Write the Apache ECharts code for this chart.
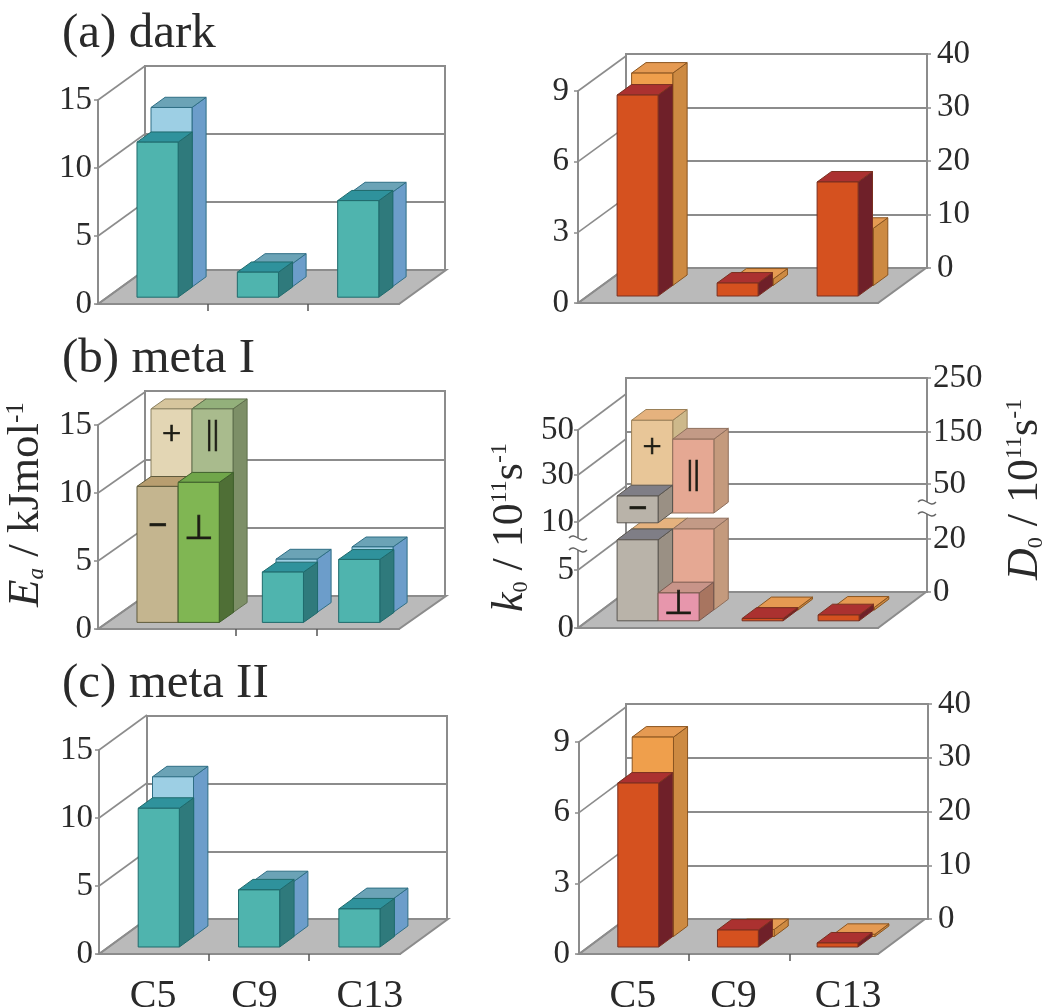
<!DOCTYPE html>
<html><head><meta charset="utf-8">
<style>html,body{margin:0;padding:0;background:#fff}#c{width:1050px;height:1007px}</style>
<script src="https://cdn.jsdelivr.net/npm/echarts@6/dist/echarts.min.js"></script>
</head><body><div id="c"></div>
<script>
// ---------- categories and tick labels ----------
const categories = ['C5', 'C9', 'C13'];
const eaTicks = [0, 5, 10, 15];
const k0Ticks = [0, 3, 6, 9];
const d0Ticks = [0, 10, 20, 30, 40];
const k0BrokenTicks = [0, 5, 10, 30, 50];
const d0BrokenTicks = [0, 20, 50, 150, 250];

// ---------- values ----------
const darkEaFront = [11.4, 1.84, 7.1];
const darkEaBack = [13.2, 1.7, 6.95];
const darkK0 = [8.53, 0.55, 4.84];
const darkD0 = [39.7, 1.2, 10.7];

const metaIEaMinus = [10.0];
const metaIEaPerp = [10.3];
const metaIEaPlus = [14.9];
const metaIEaPar = [14.9];
const metaIEaFront = [3.7, 4.63];
const metaIEaBack = [3.9, 4.8];

const metaIK0Minus = [18];
const metaIK0Perp = [2.4];
const metaID0Plus = [205];
const metaID0Par = [170];
const metaIK0 = [0.2, 0.5];
const metaID0 = [0.8, 1.0];

const metaIIEaFront = [10.2, 4.2, 2.8];
const metaIIEaBack = [11.8, 4.05, 2.8];
const metaIIK0 = [6.96, 0.72, 0.17];
const metaIID0 = [37.1, 1.3, 0.4];

// ---------- layout and style ----------
const SERIF = '"Liberation Serif","Times New Roman",serif';
const FRAME = '#8c8c8c', FLOOR = '#bababa', INK = '#2a2a2a';
const teal = {face:'#4fb4ae', top:'#2f929c', side:'#2f7a7c', line:'#1f6a6c'};
const sky = {face:'#9dcfe4', top:'#6ba3b6', side:'#6c9dca', line:'#2f6f85'};
const red = {face:'#d5511f', top:'#ab3130', side:'#6f2029', line:'#7a3020'};
const orange = {face:'#ef9f4c', top:'#e59a52', side:'#cd8a42', line:'#8a5520'};
const tanM = {face:'#c4b58f', top:'#b89e70', side:'#9c8d6a', line:'#5f5a3c'};
const greenP = {face:'#80b653', top:'#70a64a', side:'#4f6f36', line:'#3f5f2c'};
const beige = {face:'#e3d6b4', top:'#d6c59d', side:'#b9aa85', line:'#8a8060'};
const sage = {face:'#a9bb8d', top:'#93b07b', side:'#7d8f67', line:'#5f6f4c'};
const greyM = {face:'#b9b3a9', top:'#7f7e86', side:'#9a9084', line:'#5a5650'};
const pinkP = {face:'#e796ac', top:'#c89489', side:'#a87560', line:'#7a5a50'};
const sand = {face:'#e8c698', top:'#e5b27e', side:'#cdb98b', line:'#9a8058'};
const salmon = {face:'#e5a893', top:'#c39a86', side:'#c49a7d', line:'#8f6f5c'};

const BAR_SHARE = 0.41;                 // bar width as a share of a category
const FRONT_ROW = [0.2, 0.5], BACK_ROW = [0.5, 0.8];   // depth of the two rows
const BREAK_LOW = 81, BREAK_HIGH = 97;  // axis break on the broken scale

// broken scales: axis position of each tick
const k0BrokenPos = [0, 58, 106, 153, 198];
const d0BrokenPos = [0, 53, 108, 160, 214];
function toPos(v, ticks, pos) {
  for (let i = 1; i < ticks.length; i++) {
    if (v <= ticks[i]) return pos[i - 1] + (v - ticks[i - 1]) / (ticks[i] - ticks[i - 1]) * (pos[i] - pos[i - 1]);
  }
  return pos[pos.length - 1];
}
const kp = v => toPos(v, k0BrokenTicks, k0BrokenPos);
const dp = v => toPos(v, d0BrokenTicks, d0BrokenPos);

const panels = [
  {front:[98,100,301,204], wall:[145,66,300,204], ticks:eaTicks, xTicks:[110,210],
   bars:[
    {row:'back', cats:[0,1,2], vals:darkEaBack, c:sky},
    {row:'front', cats:[0,1,2], vals:darkEaFront, c:teal}]},
  {front:[578,91,300,212], wall:[626,54,301,214], ticks:k0Ticks, wallTicks:d0Ticks, right:true, xTicks:[],
   bars:[
    {row:'back', cats:[0,1,2], vals:darkD0, c:orange},
    {row:'front', cats:[0,1,2], vals:darkK0, c:red}]},
  {front:[98,425,301,204], wall:[145,391,300,205], ticks:eaTicks, xTicks:[138,219],
   bars:[
    {row:'back', cats:[0], vals:metaIEaPlus, c:beige, glyph:'+', glyphV:13},
    {row:'back', cats:[0], vals:metaIEaPar, c:sage, slot:1, glyph:'||', glyphV:13},
    {row:'back', cats:[1,2], vals:metaIEaBack, c:sky, shift:[25,1]},
    {row:'front', cats:[0], vals:metaIEaMinus, c:tanM, glyph:'\u2212', glyphV:7, bold:true},
    {row:'front', cats:[0], vals:metaIEaPerp, c:greenP, slot:1, glyph:'\u22A5', glyphV:6.8},
    {row:'front', cats:[1,2], vals:metaIEaFront, c:teal, shift:[25,1]}]},
  {front:[578,430,300,198], wall:[626,378,301,214], broken:true, ticks:k0BrokenPos, wallTicks:d0BrokenPos,
   labels:k0BrokenTicks, wallLabels:d0BrokenTicks, right:true, xTicks:[],
   bars:[
    {row:'back', cats:[0], vals:metaID0Plus.map(dp), c:sand, glyph:'+', glyphV:162},
    {row:'back', cats:[0], vals:metaID0Par.map(dp), c:salmon, slot:1, glyph:'||', glyphV:135},
    {row:'back', cats:[1,2], vals:metaID0.map(dp), c:orange, shift:[25,1]},
    {row:'front', cats:[0], vals:metaIK0Minus.map(kp), c:greyM, glyph:'\u2212', glyphV:111, bold:true},
    {row:'front', cats:[0], vals:metaIK0Perp.map(kp), c:pinkP, slot:1, glyph:'\u22A5', glyphV:16},
    {row:'front', cats:[1,2], vals:metaIK0.map(kp), c:red, shift:[25,1]}]},
  {front:[99,750,301,204], wall:[147,716,300,203], ticks:eaTicks, xTicks:[110,210], xLabels:true,
   bars:[
    {row:'back', cats:[0,1,2], vals:metaIIEaBack, c:sky},
    {row:'front', cats:[0,1,2], vals:metaIIEaFront, c:teal}]},
  {front:[579,742,299,212], wall:[626,704,302,215], ticks:k0Ticks, wallTicks:d0Ticks, right:true, xTicks:[110,211], xLabels:true,
   bars:[
    {row:'back', cats:[0,1,2], vals:metaIID0, c:orange},
    {row:'front', cats:[0,1,2], vals:metaIIK0, c:red}]}
];

const labelOffset = [8, 10, 40]; // padding that moves the category labels to the right

const grid = [], xAxis = [], yAxis = [], series = [];
const tickLine = {show:true, length:4, inside:false, lineStyle:{color:FRAME, width:1.5}};

panels.forEach((p, n) => {
  const fi = grid.length, wi = fi + 1;
  const DX = p.wall[0] - p.front[0];
  const DY = (p.wall[1] + p.wall[3]) - (p.front[1] + p.front[3]);
  const rect = r => ({left:r[0], top:r[1], width:r[2], height:r[3], outerBoundsMode:'none', containLabel:false});
  grid.push(Object.assign({show:false}, rect(p.front)));
  grid.push(Object.assign({show:true, backgroundColor:'#fff', borderColor:FRAME, borderWidth:2}, rect(p.wall)));

  xAxis.push({gridIndex:fi, type:'category', data:categories.map((c, i) => ({value:c, textStyle:{padding:[0,0,0,labelOffset[i]]}})),
    axisLine:{show:true, lineStyle:{color:FRAME, width:2}}, axisTick:{show:false}, splitLine:{show:false},
    axisLabel:{show:!!p.xLabels, fontFamily:SERIF, fontSize:40, color:INK, margin:22, interval:0}});
  xAxis.push({gridIndex:wi, type:'category', data:categories, show:false});

  const lab = (vals, names) => v => String(names ? names[vals.indexOf(v)] : v);
  const step = t => t[1] - t[0];
  yAxis.push(Object.assign({gridIndex:fi, type:'value', min:0, max:p.ticks[p.ticks.length - 1],
    axisLine:{show:true, lineStyle:{color:FRAME, width:2}}, splitLine:{show:false},
    axisTick:Object.assign({}, tickLine, p.broken ? {customValues:p.ticks} : {}),
    axisLabel:Object.assign({fontFamily:SERIF, fontSize:33, color:INK, margin:p.broken ? 4 : (p.right ? 9 : 6),
      padding:[6,0,0,0], formatter:lab(p.ticks, p.labels)}, p.broken ? {customValues:p.ticks} : {})},
    p.broken ? {} : {interval:step(p.ticks)}));

  const wt = p.wallTicks || p.ticks;
  yAxis.push(Object.assign({gridIndex:wi, type:'value', min:0, max:wt[wt.length - 1], position:'right',
    axisLine:{show:!!p.right, lineStyle:{color:FRAME, width:2}},
    splitLine:{show:true, lineStyle:{color:FRAME, width:2}},
    axisTick:Object.assign({}, tickLine, {show:!!p.right}, p.broken ? {customValues:wt} : {}),
    axisLabel:Object.assign({show:!!p.right, fontFamily:SERIF, fontSize:33, color:INK, margin:p.broken ? 6 : 10,
      formatter:lab(wt, p.wallLabels)}, p.broken ? {customValues:wt} : {})},
    p.broken ? {} : {interval:step(wt)}));

  // floor, side-wall diagonals, ticks and axis-break marks
  series.push({type:'custom', xAxisIndex:fi, yAxisIndex:fi, data:[[0, 0]], silent:true, clip:false,
    renderItem(params, api) {
      const s = params.coordSys, ch = [];
      const L = s.x, B = s.y + s.height, R = s.x + s.width;
      ch.push({type:'polygon', shape:{points:[[L,B],[L+DX,B+DY],[R+DX,B+DY],[R,B]]},
        style:{fill:FLOOR, stroke:FRAME, lineWidth:2}});
      p.ticks.forEach(v => {
        const y = api.coord([0, v])[1];
        ch.push({type:'line', shape:{x1:L,y1:y,x2:L+DX,y2:y+DY}, style:{stroke:FRAME, lineWidth:1.6}});
      });
      p.xTicks.forEach(o => ch.push({type:'line', shape:{x1:L+o,y1:B,x2:L+o,y2:B+7}, style:{stroke:'#555', lineWidth:1.5}}));
      if (p.broken) {
        [[L, 0], [L + DX + s.width + 1, DY]].forEach(([x, off]) => {
          const hi = api.coord([0, 90])[1] + off, lo = api.coord([0, 78])[1] + off;
          ch.push({type:'rect', shape:{x:x-3, y:hi, width:6, height:lo-hi}, style:{fill:'#fff'}});
          [hi, lo].forEach(y => ch.push({type:'bezierCurve',
            shape:{x1:x-9,y1:y,cpx1:x-3,cpy1:y-7,cpx2:x+3,cpy2:y+7,x2:x+9,y2:y},
            style:{stroke:'#666', lineWidth:1.4, fill:'none'}}));
        });
      }
      return {type:'group', children:ch};
    }});

  // bars
  p.bars.forEach(b => {
    const back = b.row === 'back';
    const idx = back ? wi : fi;
    const [z0, z1] = back ? BACK_ROW : FRONT_ROW;
    const anchor = back ? 1 : 0;
    const breakHigh = back ? BREAK_HIGH : BREAK_HIGH + 1;
    series.push({type:'custom', xAxisIndex:idx, yAxisIndex:idx, silent:true, clip:false,
      encode:{x:0, y:1},
      data:b.vals.map((v, i) => [b.cats[i], v, (b.shift || [])[i] || 0]),
      renderItem(params, api) {
        const cat = api.value(0), v = api.value(1), sh = api.value(2);
        const w = api.size([1, 0])[0] * BAR_SHARE;
        const x0 = api.coord([cat, 0])[0] - w / 2 + sh + (b.slot || 0) * w;
        const at = (x, val, z) => [x + (z - anchor) * DX, api.coord([cat, val])[1] + (z - anchor) * DY];
        const segs = p.broken && v > BREAK_HIGH ? [[0, BREAK_LOW], [breakHigh, v]] : [[0, v]];
        const ch = [];
        const st = (fill) => ({fill, stroke:b.c.line, lineWidth:1, lineJoin:'round'});
        segs.forEach(([a, t]) => {
          const f = (x, val) => at(x, val, z0), g = (x, val) => at(x, val, z1);
          ch.push({type:'polygon', shape:{points:[f(x0+w,a), g(x0+w,a), g(x0+w,t), f(x0+w,t)]}, style:st(b.c.side)});
          ch.push({type:'polygon', shape:{points:[f(x0,t), f(x0+w,t), g(x0+w,t), g(x0,t)]}, style:st(b.c.top)});
          ch.push({type:'polygon', shape:{points:[f(x0,a), f(x0+w,a), f(x0+w,t), f(x0,t)]}, style:st(b.c.face)});
        });
        if (b.glyph) {
          const c = at(x0 + w / 2, b.glyphV, z0);
          ch.push({type:'text', style:{text:b.glyph, x:c[0], y:c[1], align:'center', verticalAlign:'middle',
            fill:'#1c1c14', stroke:'#1c1c14', lineWidth:0.7,
            font:(b.bold ? 'bold ' : '') + '34px ' + (b.glyph === '\u22A5' ? '"DejaVu Sans"' : SERIF)}});
        }
        return {type:'group', children:ch};
      }});
  });
});

const titleStyle = {fontFamily:SERIF, fontSize:49, fontWeight:'normal', color:INK};
const titles = [['(a) dark', 10], ['(b) meta I', 335], ['(c) meta II', 660]];

const vText = (x, y, text, size) => ({type:'text', x, y, rotation:Math.PI / 2, silent:true,
  style:{text, align:'left', verticalAlign:'middle', fill:INK,
    rich:{
      n:{font:size + 'px ' + SERIF, fill:INK},
      i:{font:'italic ' + size + 'px ' + SERIF, fill:INK},
      b:{font:Math.round(size * 0.5) + 'px ' + SERIF, fill:INK, verticalAlign:'bottom'},
      bi:{font:'italic ' + Math.round(size * 0.5) + 'px ' + SERIF, fill:INK, verticalAlign:'bottom'},
      p:{font:Math.round(size * 0.55) + 'px ' + SERIF, fill:INK, verticalAlign:'top'}
    }}});

const chart = echarts.init(document.getElementById('c'), null, {renderer:'canvas'});
chart.setOption({
  animation:false,
  backgroundColor:'#fff',
  title:titles.map(t => ({text:t[0], left:62, top:t[1], textStyle:titleStyle, padding:0})),
  grid, xAxis, yAxis, series,
  graphic:[
    vText(26, 607, '{i|E}{bi|a}{n| / kJmol}{p|-1}', 45),
    vText(510, 612, '{i|k}{b|0}{n| / 10}{p|11}{n|s}{p|-1}', 44),
    vText(1025, 580, '{i|D}{b|0}{n| / 10}{p|11}{n|s}{p|-1}', 44)
  ]
});
</script></body></html>
